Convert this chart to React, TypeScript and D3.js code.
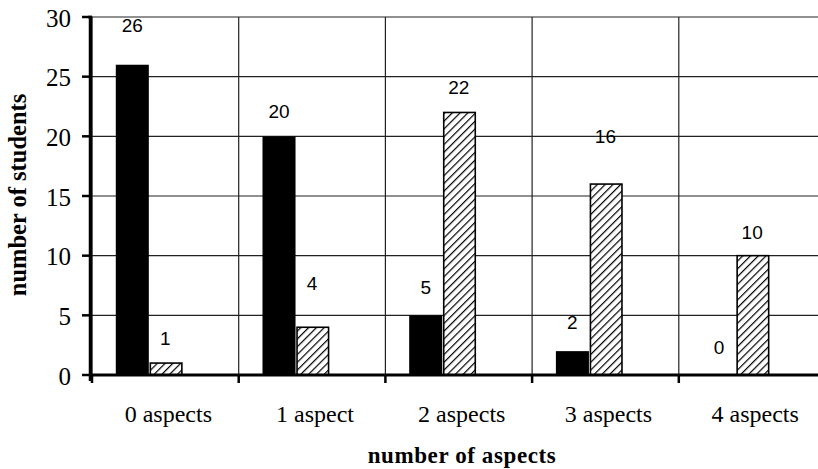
import React from "react";
import * as d3 from "d3";

const categories = ["0 aspects", "1 aspect", "2 aspects", "3 aspects", "4 aspects"];
const seriesKeys = ["solid", "hatched", "empty"];
const solidValues = [26, 20, 5, 2, 0];
const hatchedValues = [1, 4, 22, 16, 10];
// where each value label sits, in value units (labels were placed by hand in the original)
const solidLabelLevels = [29.3, 22.1, 7.3, 4.4, 2.3];
const hatchedLabelLevels = [3.1, 7.7, 24.1, 20.0, 11.9];
const yTicks = [0, 5, 10, 15, 20, 25, 30];

const W = 818;
const H = 469;
const left = 92;
const top = 17;
const bottom = 375;
const bandW = 146.7;

export default function App() {
  const x0 = d3
    .scaleBand<string>()
    .domain(categories)
    .range([left, left + bandW * categories.length])
    .padding(0);
  const x1 = d3
    .scaleBand<string>()
    .domain(seriesKeys)
    .range([0, x0.bandwidth()])
    .paddingInner(0)
    .paddingOuter(0.72);
  const y = d3.scaleLinear().domain([0, 30]).range([bottom, top]);
  const right = W;
  const bw = x1.bandwidth();

  const serif = "'Liberation Serif', 'Times New Roman', serif";
  const sans = "'Liberation Sans', Arial, sans-serif";

  return (
    <svg width={W} height={H} style={{ position: "absolute", left: 0, top: 0, background: "#fff" }}>
      <defs>
        <pattern id="hatch" patternUnits="userSpaceOnUse" width="5.5" height="5.5" patternTransform="rotate(45)">
          <rect width="5.5" height="5.5" fill="#fff" />
          <line x1="0" y1="0" x2="0" y2="5.5" stroke="#000" strokeWidth="2.4" />
        </pattern>
      </defs>

      {/* horizontal gridlines */}
      {yTicks.map((t) => (
        <line key={"h" + t} x1={left} x2={right} y1={y(t)} y2={y(t)} stroke="#222" strokeWidth={1.2} />
      ))}
      {/* vertical gridlines at category boundaries */}
      {categories.map((c) => (
        <line key={"v" + c} x1={x0(c)!} x2={x0(c)!} y1={top} y2={bottom} stroke="#222" strokeWidth={1.2} />
      ))}

      {/* bars */}
      {categories.map((c, i) => (
        <g key={"g" + c} transform={`translate(${x0(c)},0)`}>
          {solidValues[i] > 0 && (
            <rect
              x={x1("solid")!}
              y={y(solidValues[i])}
              width={bw}
              height={y(0) - y(solidValues[i])}
              fill="#000"
            />
          )}
          {hatchedValues[i] > 0 && (
            <rect
              x={x1("hatched")! + 1.5}
              y={y(hatchedValues[i])}
              width={bw - 1.5}
              height={y(0) - y(hatchedValues[i])}
              fill="url(#hatch)"
              stroke="#000"
              strokeWidth={1.6}
            />
          )}
          <text
            x={x1("solid")! + bw / 2}
            y={y(solidLabelLevels[i])}
            textAnchor="middle"
            dominantBaseline="central"
            fontFamily={sans}
            fontSize={19}
          >
            {solidValues[i]}
          </text>
          <text
            x={x1("hatched")! + bw / 2}
            y={y(hatchedLabelLevels[i])}
            textAnchor="middle"
            dominantBaseline="central"
            fontFamily={sans}
            fontSize={19}
          >
            {hatchedValues[i]}
          </text>
        </g>
      ))}

      {/* axes */}
      <line x1={left - 1.5} x2={left - 1.5} y1={top - 1} y2={bottom + 6} stroke="#000" strokeWidth={3.5} />
      <line x1={left - 3} x2={right} y1={bottom} y2={bottom} stroke="#000" strokeWidth={3} />
      <line x1={left - 4} x2={left} y1={top} y2={top} stroke="#000" strokeWidth={2.5} />

      {yTicks.map((t) => (
        <g key={"yt" + t}>
          <line x1={left - 10} x2={left} y1={y(t)} y2={y(t)} stroke="#000" strokeWidth={2.5} />
          <text
            x={left - 21}
            y={y(t) + 1}
            textAnchor="end"
            dominantBaseline="central"
            fontFamily={serif}
            fontSize={25}
          >
            {t}
          </text>
        </g>
      ))}
      {categories.map((c) => (
        <line key={"xt" + c} x1={x0(c)!} x2={x0(c)!} y1={bottom} y2={bottom + 8} stroke="#000" strokeWidth={2.5} />
      ))}
      {categories.map((c) => (
        <text
          key={"xl" + c}
          x={x0(c)! + x0.bandwidth() / 2 + 3}
          y={422}
          textAnchor="middle"
          fontFamily={serif}
          fontSize={24}
        >
          {c}
        </text>
      ))}

      <text
        x={462}
        y={463}
        textAnchor="middle"
        fontFamily={serif}
        fontWeight="bold"
        fontSize={23}
        letterSpacing={0.6}
      >
        number of aspects
      </text>
      <text
        transform={`translate(26,195) rotate(-90)`}
        textAnchor="middle"
        fontFamily={serif}
        fontWeight="bold"
        fontSize={24.5}
      >
        number of students
      </text>
    </svg>
  );
}
